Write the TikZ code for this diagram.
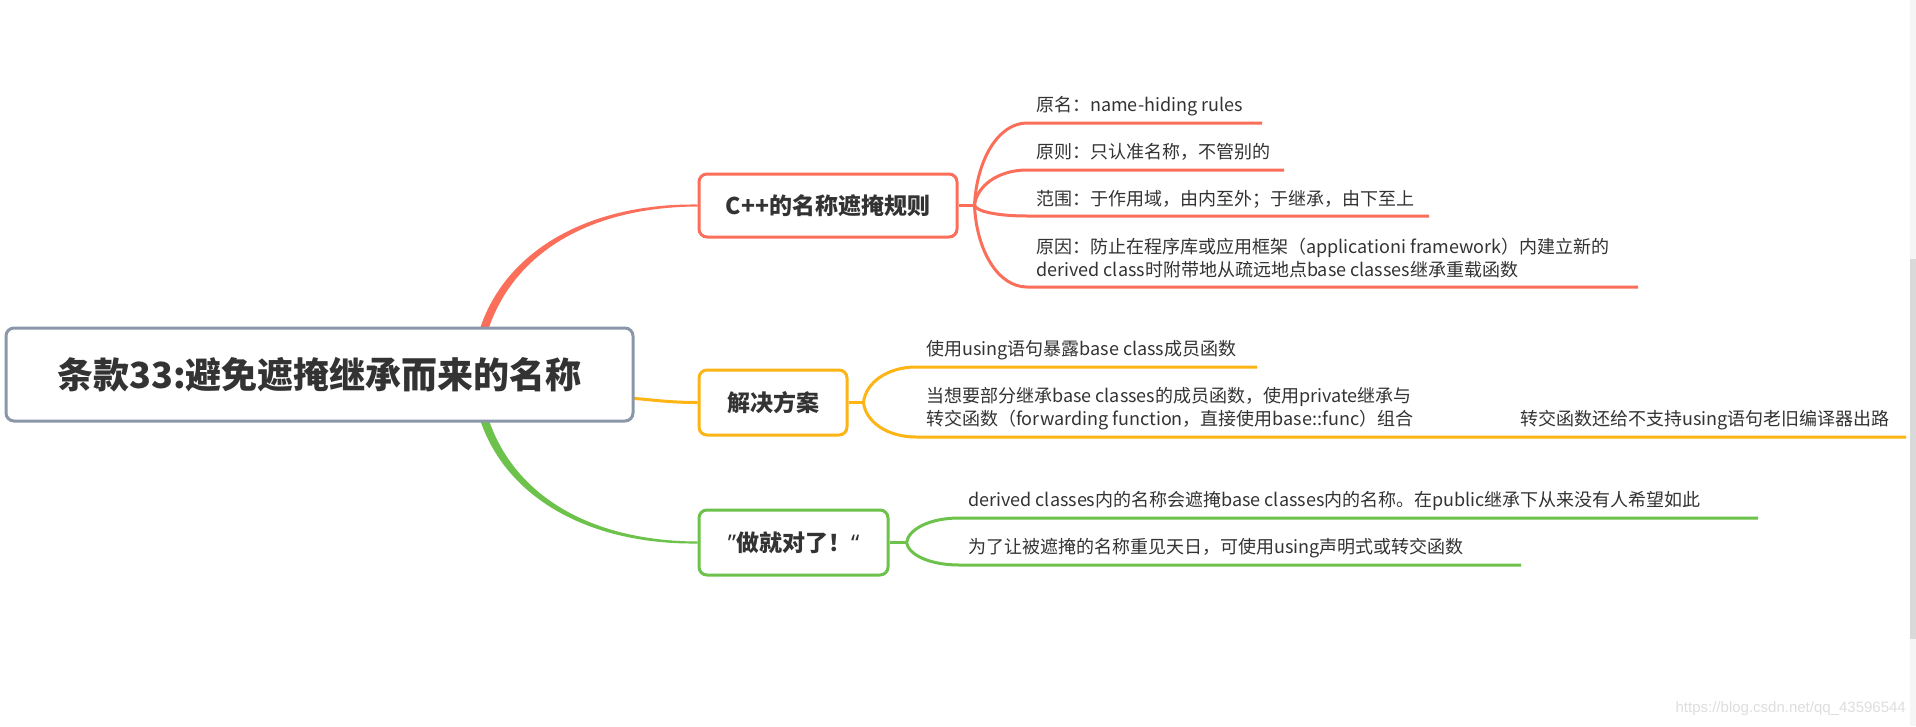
\documentclass[tikz,border=0pt]{standalone}
\usepackage{fontspec}
\setmainfont{Noto Sans CJK SC}
\newfontfamily\wmfont{Liberation Sans}
\newfontfamily\latinq{Noto Sans}
\usetikzlibrary{calc}
\pgfdeclarelayer{bg}
\pgfsetlayers{bg,main}
\definecolor{cred}{HTML}{FA6E5A}
\definecolor{corange}{HTML}{FDB515}
\definecolor{cgreen}{HTML}{6CC24A}
\definecolor{cgray}{HTML}{8A97A8}
\definecolor{ctext}{HTML}{333333}
\begin{document}
\begin{tikzpicture}[x=1pt,y=-1pt,
  rootbox/.style={draw=cgray, line width=3pt, rounded corners=8pt, fill=white, inner sep=0pt,
    font=\fontsize{36}{40}\selectfont\bfseries, text=ctext},
  topic/.style={line width=3pt, rounded corners=8pt, fill=white, inner sep=0pt,
    font=\fontsize{23}{28}\selectfont\bfseries, text=ctext},
  leaf/.style={anchor=west, inner sep=0pt, font=\fontsize{18}{23}\selectfont, text=ctext, align=left},
  branch/.style={line width=3pt, line join=round},
]
\useasboundingbox (0,0) rectangle (1916,726);

% root and main topics
\node[rootbox, minimum width=627pt, minimum height=93pt] (root) at (319.5,374.5) {条款33:避免遮掩继承而来的名称};
\node[topic, draw=cred, minimum width=258pt, minimum height=63pt] (cpp) at (828,205.5) {C++的名称遮掩规则};
\node[topic, draw=corange, minimum width=148pt, minimum height=65pt] (sol) at (773,402.5) {解决方案};
\node[topic, draw=cgreen, minimum width=189pt, minimum height=65pt] (just) at (793.5,542.5) {{\latinq\bfseries ”}做就对了！{\latinq\bfseries “}};

% white page, scrollbar strip and main connectors (behind the boxes)
\begin{pgfonlayer}{bg}
\fill[white] (0,0) rectangle (1916,726);
\fill[black!4] (1910,0) rectangle (1916,726);
\fill[black!15] (1910,259) rectangle (1916,639);
\fill[cred] (478,335) .. controls (501,254) and (584,203.2) .. ([yshift=1pt]cpp.west)
  -- ([yshift=-1pt]cpp.west) .. controls (586,207) and (509,256) .. (486,337) -- cycle;
\fill[cgreen] (478,413) .. controls (501,494) and (584,544.8) .. ([yshift=-1pt]just.west)
  -- ([yshift=1pt]just.west) .. controls (586,541) and (509,492) .. (486,411) -- cycle;
\draw[corange, line width=3pt] ([xshift=-33pt,yshift=-21.5pt]root.east) .. controls +(50,3) and +(-34,0) .. (sol.west);
\end{pgfonlayer}

% red sub-branches
\draw[branch, cred] (cpp.east) -- ++(16,0) coordinate (cb);
\coordinate (r1) at (1027,123); \coordinate (r1e) at (1262,123);
\coordinate (r2) at (1027,170); \coordinate (r2e) at (1284,170);
\coordinate (r3) at (1027,216); \coordinate (r3e) at (1429,216);
\coordinate (r4) at (1027,287); \coordinate (r4e) at (1638,287);
\draw[branch, cred] (cb) .. controls +(2,-45) and +(-29,0) .. (r1) -- (r1e);
\draw[branch, cred] (cb) .. controls +(2,-19.5) and +(-29,0) .. (r2) -- (r2e);
\draw[branch, cred] (cb) .. controls +(2,6) and +(-29,0) .. (r3) -- (r3e);
\draw[branch, cred] (cb) .. controls +(2,45) and +(-29,0) .. (r4) -- (r4e);
\node[leaf] (rt1) at (1036,106) {原名：name-hiding rules};
\node[leaf] (rt2) at (1036,152) {原则：只认准名称，不管别的};
\node[leaf] (rt3) at (1036,199) {范围：于作用域，由内至外；于继承，由下至上};
\node[leaf] (rt4) at (1036,258) {原因：防止在程序库或应用框架（applicationi framework）内建立新的\\derived class时附带地从疏远地点base classes继承重载函数};

% orange sub-branches
\draw[branch, corange] (sol.east) -- ++(15,0) coordinate (ob);
\coordinate (o1) at (916,367); \coordinate (o1e) at (1257,367);
\coordinate (o2) at (916,437); \coordinate (o2e) at (1906,437);
\draw[branch, corange] (ob) .. controls +(2,-19.5) and +(-29,0) .. (o1) -- (o1e);
\draw[branch, corange] (ob) .. controls +(2,19) and +(-29,0) .. (o2) -- (o2e);
\node[leaf] (ot1) at (926,350) {使用using语句暴露base class成员函数};
\node[leaf] (ot2) at (926,409) {当想要部分继承base classes的成员函数，使用private继承与\\转交函数（forwarding function，直接使用base::func）组合};
\node[leaf] (ot3) at (1520,420) {转交函数还给不支持using语句老旧编译器出路};

% green sub-branches
\draw[branch, cgreen] (just.east) -- ++(17,0) coordinate (gb);
\coordinate (g1) at (959,518); \coordinate (g1e) at (1758,518);
\coordinate (g2) at (959,565); \coordinate (g2e) at (1521,565);
\draw[branch, cgreen] (gb) .. controls +(2,-13.5) and +(-29,0) .. (g1) -- (g1e);
\draw[branch, cgreen] (gb) .. controls +(2,12.4) and +(-29,0) .. (g2) -- (g2e);
\node[leaf] (gt1) at (968,501) {derived classes内的名称会遮掩base classes内的名称。在public继承下从来没有人希望如此};
\node[leaf] (gt2) at (968,548) {为了让被遮掩的名称重见天日，可使用using声明式或转交函数};

% watermark
\node[anchor=east, inner sep=0pt, font=\wmfont\fontsize{15}{18}\selectfont, text=black!13] (wm) at (1906,709) {https://blog.csdn.net/qq\_43596544};
\end{tikzpicture}
\end{document}
